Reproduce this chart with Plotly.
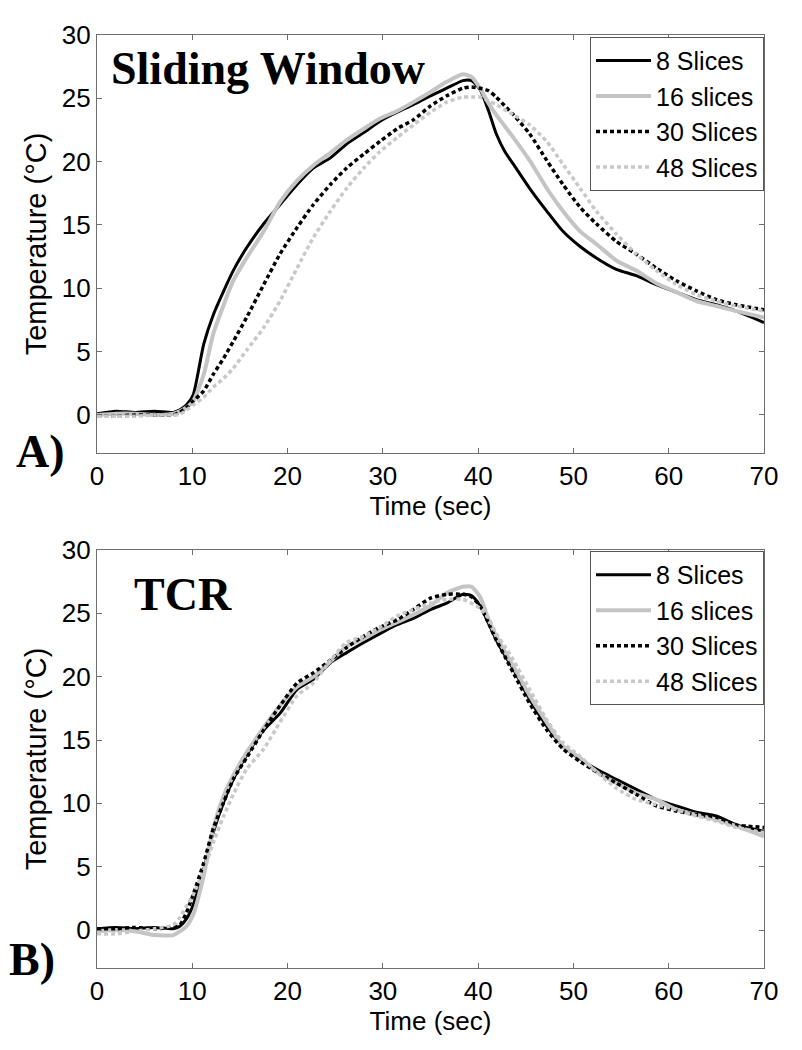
import plotly.graph_objects as go

# ---------------- data ----------------
time_s = [0, 2, 4, 6, 8, 8.7, 9.4, 10.1, 11.2, 12.2, 13.3, 14.3, 15.7, 17.5, 19.2, 21,
          22.7, 24.5, 26.2, 28, 29.7, 31.5, 33.2, 35, 36.7, 38.4, 39.3, 40.2, 41.1, 41.9,
          42.8, 43.7, 45.4, 47.2, 48.9, 50.7, 52.4, 54.5, 56.6, 58.7, 60.8, 62.9, 65, 67.1, 70]

series_names = ["8 Slices", "16 slices", "30 Slices", "48 Slices"]

# Panel A: Sliding Window
sw_8 = [0.1, 0.3, 0.2, 0.3, 0.2, 0.4, 0.8, 1.6, 5.6, 7.9, 9.8, 11.4, 13.2, 15.1, 16.6, 18.2,
        19.5, 20.3, 21.4, 22.3, 23.2, 23.9, 24.5, 25.2, 25.8, 26.4, 26.4, 25.7, 24.0, 22.2,
        20.8, 19.8, 17.9, 16.1, 14.5, 13.3, 12.4, 11.5, 11.0, 10.3, 9.7, 9.1, 8.7, 8.2, 7.3]
sw_16 = [0.0, 0.1, 0.1, 0.0, 0.1, 0.3, 0.6, 1.1, 3.2, 6.4, 8.7, 10.6, 12.4, 14.5, 16.8, 18.5,
         19.7, 20.7, 21.7, 22.6, 23.4, 24.0, 24.7, 25.5, 26.3, 26.9, 26.7, 25.8, 24.6, 23.7,
         22.8, 21.9, 20.1, 17.9, 16.1, 14.5, 13.5, 12.2, 11.4, 10.4, 9.7, 9.0, 8.6, 8.2, 7.7]
sw_30 = [-0.1, -0.1, 0.0, 0.0, 0.0, 0.2, 0.6, 1.1, 1.9, 3.2, 4.5, 5.8, 7.7, 10.3, 12.7, 14.8,
         16.6, 18.2, 19.5, 20.6, 21.6, 22.6, 23.3, 24.4, 25.2, 25.8, 25.9, 25.8, 25.6, 25.1,
         24.4, 23.7, 22.2, 20.1, 18.2, 16.4, 15.1, 13.7, 12.7, 11.6, 10.6, 9.8, 9.1, 8.7, 8.3]
sw_48 = [-0.1, -0.1, -0.1, 0.0, 0.0, 0.05, 0.4, 0.8, 1.4, 2.2, 2.9, 3.7, 5.1, 6.9, 9.0, 11.6,
         14.0, 16.1, 17.9, 19.5, 20.8, 21.9, 22.9, 23.9, 24.7, 25.1, 25.1, 25.1, 24.8, 24.5,
         24.1, 23.7, 22.9, 21.6, 19.8, 17.9, 16.1, 14.3, 12.7, 11.4, 10.3, 9.5, 9.0, 8.6, 8.2]

# Panel B: TCR
tcr_8 = [0.1, 0.2, 0.1, 0.2, 0.1, 0.3, 0.9, 2.0, 4.8, 7.7, 10.1, 11.9, 13.8, 15.8, 17.1, 19.0,
         19.8, 21.1, 21.9, 22.7, 23.4, 24.1, 24.6, 25.3, 25.8, 26.5, 26.4, 25.6, 24.2, 22.9,
         21.7, 20.6, 18.2, 16.1, 14.5, 13.5, 12.7, 11.9, 11.1, 10.3, 9.8, 9.3, 9.0, 8.3, 7.8]
tcr_16 = [-0.1, 0.0, -0.1, -0.4, -0.4, -0.1, 0.3, 1.2, 4.3, 8.0, 10.6, 12.2, 14.0, 16.0, 17.7, 19.2,
          20.0, 21.2, 22.4, 23.0, 23.7, 24.3, 24.9, 25.6, 26.6, 27.1, 27.1, 26.3, 24.5, 23.2,
          22.0, 20.8, 18.5, 16.4, 14.5, 13.6, 12.5, 11.6, 10.8, 10.3, 9.5, 9.1, 8.7, 8.2, 7.4]
tcr_30 = [0.1, 0.1, 0.2, 0.1, 0.2, 0.4, 1.4, 2.8, 5.3, 8.0, 10.1, 11.9, 13.6, 15.8, 17.7, 19.5,
          20.3, 21.3, 22.3, 23.2, 23.9, 24.5, 25.3, 26.2, 26.5, 26.5, 26.3, 25.6, 24.2, 22.9,
          21.6, 20.3, 17.9, 15.8, 14.3, 13.3, 12.5, 11.6, 10.7, 9.8, 9.4, 9.1, 8.9, 8.3, 8.1]
tcr_48 = [-0.3, -0.3, -0.1, 0.1, 0.4, 1.0, 1.9, 2.8, 4.7, 6.9, 9.0, 10.7, 12.7, 14.3, 16.4, 18.5,
          19.5, 21.3, 22.7, 23.2, 23.9, 24.8, 25.3, 25.8, 26.1, 26.1, 25.8, 25.4, 24.6, 23.4,
          22.4, 21.3, 19.0, 16.6, 14.8, 13.7, 12.5, 11.2, 10.3, 9.9, 9.5, 9.0, 8.6, 8.1, 7.7]

x_ticks = [0, 10, 20, 30, 40, 50, 60, 70]
y_ticks = [0, 5, 10, 15, 20, 25, 30]

# ---------------- styles ----------------
styles = [
    dict(color="#000000", width=3, dash="solid"),
    dict(color="#c4c4c4", width=4, dash="solid"),
    dict(color="#000000", width=3.5, dash="4px,3px"),
    dict(color="#c8c8c8", width=3.5, dash="4px,3px"),
]

fig = go.Figure()

panels = [
    ([sw_8, sw_16, sw_30, sw_48], "x", "y", "legend"),
    ([tcr_8, tcr_16, tcr_30, tcr_48], "x2", "y2", "legend2"),
]
for vals, xa, ya, lg in panels:
    for i, (name, v) in enumerate(zip(series_names, vals)):
        fig.add_trace(go.Scatter(
            x=time_s, y=v, name=name, mode="lines",
            line=dict(color=styles[i]["color"], width=styles[i]["width"],
                      dash=styles[i]["dash"], shape="spline", smoothing=0.6),
            xaxis=xa, yaxis=ya, legend=lg, legendgroup=f"{lg}_{i}",
        ))

FONT = "Liberation Sans, Arial, sans-serif"
SERIF = "Liberation Serif, Times New Roman, serif"
axis_col = "#6e6e6e"

xcommon = dict(range=[0, 70], tickvals=x_ticks, ticks="inside", ticklen=5, tickcolor=axis_col,
               showline=True, linecolor=axis_col, linewidth=1.3, mirror="ticks",
               showgrid=False, zeroline=False,
               tickfont=dict(family=FONT, size=26, color="#000"),
               title=dict(text="Time (sec)", font=dict(family=FONT, size=26, color="#000"),
                          standoff=0))
ycommon = dict(range=[-3, 30], tickvals=y_ticks, ticks="inside", ticklen=5, tickcolor=axis_col,
               showline=True, linecolor=axis_col, linewidth=1.3, mirror="ticks",
               showgrid=False, zeroline=False,
               tickfont=dict(family=FONT, size=26, color="#000"),
               title=dict(text="Temperature (°C)", font=dict(family=FONT, size=29, color="#000"),
                          standoff=6))

legend_common = dict(font=dict(family=FONT, size=25, color="#000"), bgcolor="white",
                     bordercolor="#555", borderwidth=1, xanchor="right", yanchor="top",
                     traceorder="grouped", tracegroupgap=0, itemwidth=55)

fig.update_layout(
    width=794, height=1042, autosize=False,
    margin=dict(l=89, r=38, t=25, b=82),
    paper_bgcolor="white", plot_bgcolor="white",
    xaxis=dict(domain=[0, 1], anchor="y", **xcommon),
    yaxis=dict(domain=[0.552, 1], anchor="x", **ycommon),
    xaxis2=dict(domain=[0, 1], anchor="y2", **xcommon),
    yaxis2=dict(domain=[0, 0.448], anchor="x2", **ycommon),
    legend=dict(x=1.0, y=0.998, **legend_common),
    legend2=dict(x=1.0, y=0.447, **legend_common),
    showlegend=True,
    annotations=[
        dict(text="<b>Sliding Window</b>", x=1.3, y=27.35, xref="x", yref="y",
             xanchor="left", yanchor="middle", showarrow=False,
             font=dict(family=SERIF, size=46, color="#000")),
        dict(text="<b>TCR</b>", x=3.65, y=26.5, xref="x2", yref="y2",
             xanchor="left", yanchor="middle", showarrow=False,
             font=dict(family=SERIF, size=46, color="#000")),
        dict(text="<b>A)</b>", x=-0.124, y=-2.9, xref="paper", yref="y",
             xanchor="left", yanchor="middle", showarrow=False,
             font=dict(family=SERIF, size=46, color="#000")),
        dict(text="<b>B)</b>", x=-0.135, y=-2.3, xref="paper", yref="y2",
             xanchor="left", yanchor="middle", showarrow=False,
             font=dict(family=SERIF, size=46, color="#000")),
    ],
)

fig.write_html("out.html")
